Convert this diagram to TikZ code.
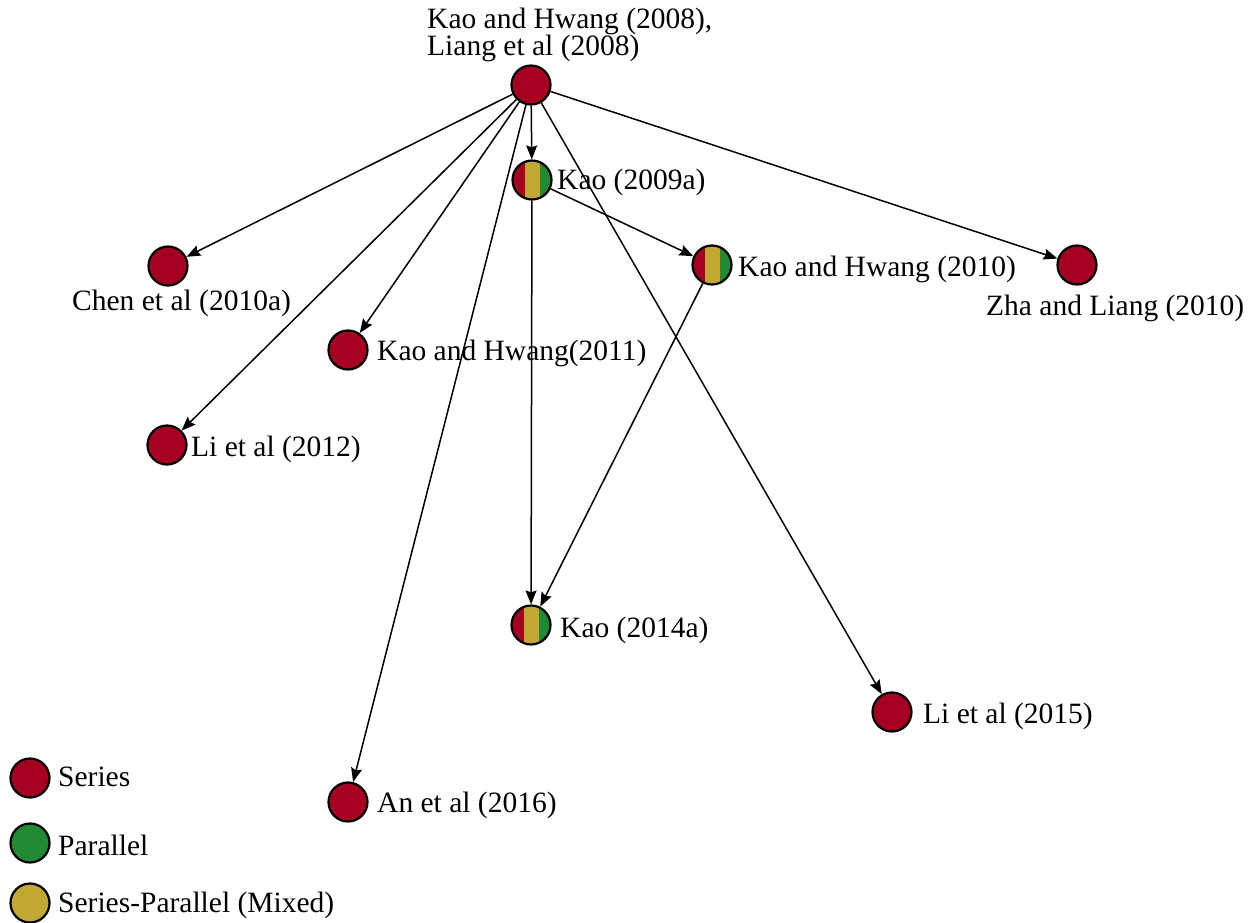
\documentclass[tikz,border=0pt]{standalone}
\usepackage{fontspec}
\setmainfont{Liberation Serif}
\usetikzlibrary{arrows.meta}
\definecolor{sred}{RGB}{166,0,33}
\definecolor{sgreen}{RGB}{32,138,52}
\definecolor{sgold}{RGB}{192,168,50}
\tikzset{
  dot/.style={circle, draw=black, line width=2.2pt, minimum size=39pt, inner sep=0pt},
  ser/.style={dot, fill=sred},
  par/.style={dot, fill=sgreen},
  mixleg/.style={dot, fill=sgold},
  mixed/.style={dot, fill=sred, path picture={
     \fill[sgold] ([xshift=-7.5pt]path picture bounding box.south) rectangle ([xshift=7.5pt]path picture bounding box.north);
     \fill[sgreen] ([xshift=7.5pt]path picture bounding box.south) rectangle (path picture bounding box.north east);}},
  lab/.style={inner sep=0pt, anchor=west, font=\fontsize{29.5}{25}\selectfont},
  edge/.style={line width=1.5pt, -{Stealth[length=14pt,width=11pt,inset=2pt]}}
}
\begin{document}
\begin{tikzpicture}[x=1pt,y=-1pt]
\useasboundingbox (0,0) rectangle (1258,922);
% nodes
\node[ser] (top) at (531,85) {};
\node[mixed] (k09) at (532,180) {};
\node[ser] (chen) at (168,266) {};
\node[ser] (kh11) at (348,350) {};
\node[ser] (li12) at (167,445) {};
\node[mixed] (kh10) at (712,265) {};
\node[ser] (zha) at (1077,265) {};
\node[mixed] (k14) at (531,625) {};
\node[ser] (li15) at (892,712) {};
\node[ser] (an16) at (348,802) {};
% labels
\node[lab, align=left] (ltop) at (427,35) {Kao and Hwang (2008),\\Liang et al (2008)};
\node[lab] (lk09) at (557,182) {Kao (2009a)};
\node[lab] (lchen) at (72,303) {Chen et al (2010a)};
\node[lab] (lkh11) at (377,353) {Kao and Hwang(2011)};
\node[lab] (lli12) at (191,449) {Li et al (2012)};
\node[lab] (lkh10) at (738,269) {Kao and Hwang (2010)};
\node[lab] (lzha) at (986,308) {Zha and Liang (2010)};
\node[lab] (lk14) at (560,630) {Kao (2014a)};
\node[lab] (lli15) at (923,716) {Li et al (2015)};
\node[lab] (lan16) at (377,805) {An et al (2016)};
% edges
\draw[edge] (top) -- (chen);
\draw[edge] (top) -- (kh11);
\draw[edge] (top) -- (li12);
\draw[edge] (top) -- (k09);
\draw[edge] (top) -- (an16);
\draw[edge] (top) -- (li15);
\draw[edge] (top) -- (zha);
\draw[edge] (k09) -- (kh10);
\draw[edge] (k09) -- (k14);
\draw[edge] (kh10) -- (k14);
% legend
\node[ser] (legs) at (30,778) {};
\node[par] (legp) at (30,843) {};
\node[mixleg] (legm) at (30,903) {};
\node[lab] (llegs) at (58,777) {Series};
\node[lab] (llegp) at (58,845) {Parallel};
\node[lab] (llegm) at (58,905) {Series-Parallel (Mixed)};
\end{tikzpicture}
\end{document}
